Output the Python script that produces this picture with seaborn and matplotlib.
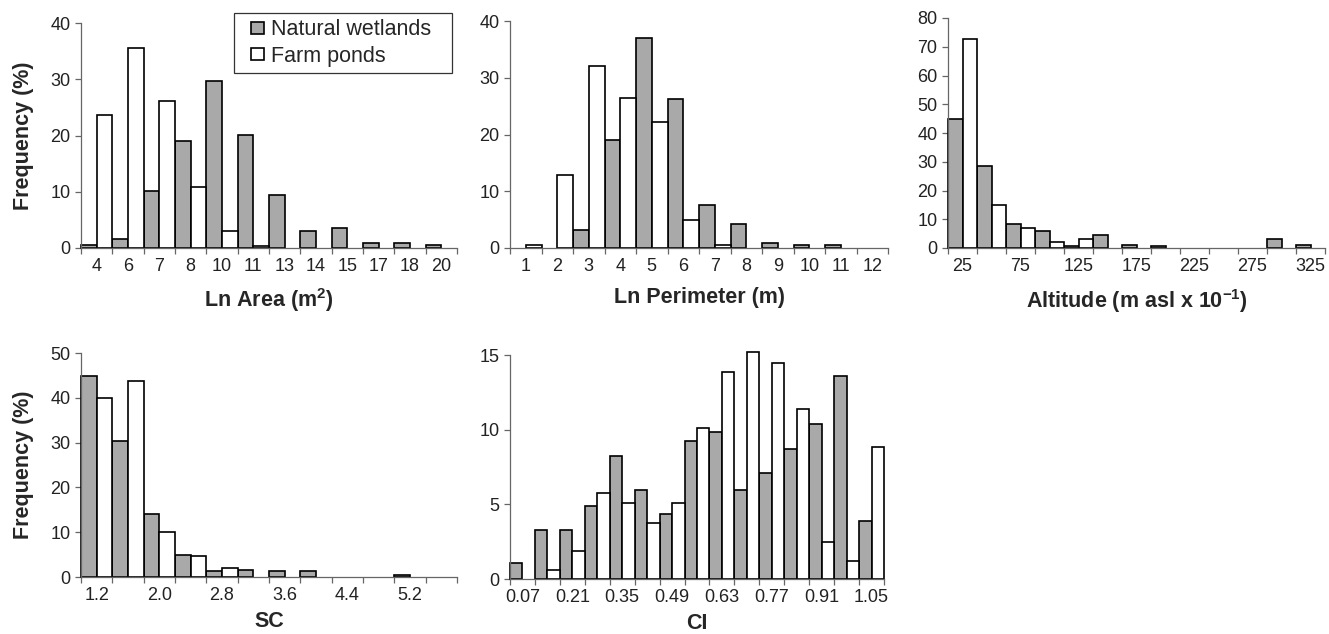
import numpy as np
import pandas as pd
import matplotlib
matplotlib.use('Agg')
import matplotlib.pyplot as plt
from matplotlib.patches import Patch, Rectangle
from matplotlib.legend_handler import HandlerPatch
import seaborn as sns

groups = ['Natural wetlands', 'Farm ponds']
colors = {'Natural wetlands': '#a8a9a8', 'Farm ponds': 'white'}

# Ln Area (m2)
area_cats = ['4', '6', '7', '8', '10', '11', '13', '14', '15', '17', '18', '20']
area_nat = [0.6, 1.6, 10.2, 19.1, 29.7, 20.1, 9.5, 2.95, 3.6, 0.95, 0.95, 0.6]
area_farm = [23.7, 35.6, 26.1, 10.9, 2.95, 0.3, 0, 0, 0, 0, 0, 0]

# Ln Perimeter (m)
perim_cats = ['1', '2', '3', '4', '5', '6', '7', '8', '9', '10', '11', '12']
perim_nat = [0, 0, 3.2, 19.0, 37.0, 26.2, 7.5, 4.2, 0.95, 0.6, 0.6, 0]
perim_farm = [0.6, 12.8, 32.0, 26.5, 22.2, 4.9, 0.6, 0, 0, 0, 0, 0]

# Altitude (m asl x 10^-1)
alt_cats = ['25', '50', '75', '100', '125', '150', '175', '200', '225',
            '250', '275', '300', '325']
alt_nat = [44.9, 28.6, 8.3, 5.9, 0.6, 4.5, 1.2, 0.6, 0, 0, 0, 3.2, 1.2]
alt_farm = [72.7, 14.8, 7.1, 2.0, 3.2, 0, 0, 0, 0, 0, 0, 0, 0]

# SC
sc_cats = ['1.2', '1.6', '2.0', '2.4', '2.8', '3.2', '3.6', '4.0', '4.4',
           '4.8', '5.2', '5.6']
sc_nat = [44.9, 30.4, 14.1, 5.0, 1.3, 1.6, 1.3, 1.3, 0, 0, 0.4, 0]
sc_farm = [40.0, 43.75, 10.0, 4.6, 2.1, 0, 0, 0, 0, 0, 0, 0]

# CI
ci_cats = ['0.07', '0.14', '0.21', '0.28', '0.35', '0.42', '0.49', '0.56',
           '0.63', '0.70', '0.77', '0.84', '0.91', '0.98', '1.05']
ci_nat = [1.1, 3.25, 3.25, 4.86, 8.24, 5.97, 4.37, 9.22, 9.84, 5.97, 7.1,
          8.73, 10.36, 13.59, 3.88]
ci_farm = [0, 0.62, 1.9, 5.75, 5.12, 3.74, 5.12, 10.1, 13.85, 15.19, 14.48,
           11.36, 2.47, 1.22, 8.86]

sns.set_style('ticks')
plt.rcParams['font.family'] = ['Liberation Sans', 'DejaVu Sans']
plt.rcParams['mathtext.fontset'] = 'custom'
plt.rcParams['mathtext.rm'] = 'Liberation Sans'
plt.rcParams['mathtext.bf'] = 'Liberation Sans:bold'

W, H = 1329, 634
fig = plt.figure(figsize=(W / 100, H / 100), dpi=100)


def box(left, right, top, bottom):
    return [left / W, 1 - bottom / H, (right - left) / W, (bottom - top) / H]


def panel(rect, cats, nat, farm, ymax, ystep, xlabel, every=1, ylabel=False,
          xlab_y=-0.17):
    ax = fig.add_axes(rect)
    n = len(cats)
    df = pd.DataFrame({
        'cat': cats + cats,
        'freq': nat + farm,
        'group': [groups[0]] * n + [groups[1]] * n,
    })
    sns.barplot(data=df, x='cat', y='freq', hue='group', order=cats,
                hue_order=groups, palette=colors, width=1.0, saturation=1,
                edgecolor='black', linewidth=1.2, errorbar=None,
                legend=False, ax=ax)
    for p in ax.patches:
        p.set_clip_on(False)
        if p.get_height() == 0:
            p.set_visible(False)
    ax.set_xlim(-0.5, n - 0.5)
    ax.set_ylim(0, ymax)
    ax.set_yticks(np.arange(0, ymax + 0.1, ystep))
    ax.set_xticks(range(0, n, every))
    ax.set_xticklabels(cats[::every])
    ax.set_xticks(np.arange(-0.5, n, 1), minor=True)
    ax.tick_params(axis='x', which='major', length=0, pad=7,
                   labelsize=13, labelcolor='#222222')
    ax.tick_params(axis='x', which='minor', length=4.5, width=0.9,
                   color='#666666', direction='out')
    ax.tick_params(axis='y', length=4.5, width=0.9, color='#666666',
                   pad=3, labelsize=13, labelcolor='#222222')
    for s in ['top', 'right']:
        ax.spines[s].set_visible(False)
    for s in ['left', 'bottom']:
        ax.spines[s].set_color('#666666')
        ax.spines[s].set_linewidth(0.9)
    ax.set_xlabel(xlabel, fontsize=15.5, fontweight='bold')
    ax.xaxis.set_label_coords(0.5, xlab_y)
    if ylabel:
        ax.set_ylabel('Frequency (%)', fontsize=15.5, fontweight='bold')
        ax.yaxis.set_label_coords(-0.125, 0.5)
    else:
        ax.set_ylabel('')
    return ax


ax1 = panel(box(81, 457, 23, 248), area_cats, area_nat, area_farm, 40, 10,
            r'Ln Area (m$^{\mathbf{2}}$)', ylabel=True)
ax2 = panel(box(510, 888, 21, 248), perim_cats, perim_nat, perim_farm, 40, 10,
            'Ln Perimeter (m)')
ax3 = panel(box(948, 1325, 18, 248), alt_cats, alt_nat, alt_farm, 80, 10,
            r'Altitude (m asl x 10$^{\mathbf{-1}}$)', every=2)
ax4 = panel(box(81, 457, 353, 577), sc_cats, sc_nat, sc_farm, 50, 10,
            'SC', every=2, ylabel=True, xlab_y=-0.15)
ax5 = panel(box(510, 884, 355, 579), ci_cats, ci_nat, ci_farm, 15, 5,
            'CI', every=2, xlab_y=-0.15)


# square marker sitting at the right end of a wider handle box
def square(legend, orig_handle, xdescent, ydescent, width, height, fontsize):
    side = 0.62 * fontsize
    return Rectangle((-xdescent + width - side, -ydescent + (height - side * 0.88) / 2),
                     side, side * 0.88)


handles = [Patch(facecolor=colors[g], edgecolor='black', linewidth=1.2)
           for g in groups]
leg = fig.legend(handles, groups, loc='upper left', mode='expand',
                 bbox_to_anchor=(234 / W, 1 - 73 / H, 218 / W, 60 / H),
                 borderaxespad=0, frameon=True, fancybox=False,
                 edgecolor='black', fontsize=15.5, handlelength=1.1,
                 handleheight=0.6, handletextpad=0.34, borderpad=0.3,
                 labelspacing=0.25,
                 handler_map={Patch: HandlerPatch(patch_func=square)})
leg.get_frame().set_linewidth(0.9)

fig.savefig('out.png', dpi=100)
